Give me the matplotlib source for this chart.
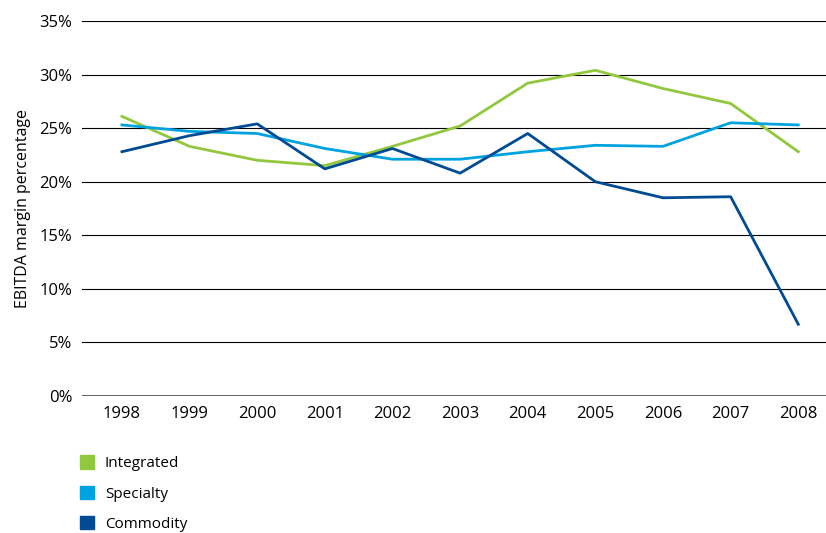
import matplotlib.pyplot as plt
from matplotlib.patches import Patch

plt.rcParams['font.family'] = ['Open Sans', 'DejaVu Sans']

# Data
years = [1998, 1999, 2000, 2001, 2002, 2003, 2004, 2005, 2006, 2007, 2008]
integrated = [26.1, 23.3, 22.0, 21.5, 23.3, 25.2, 29.2, 30.4, 28.7, 27.3, 22.8]
specialty = [25.3, 24.7, 24.5, 23.1, 22.1, 22.1, 22.8, 23.4, 23.3, 25.5, 25.3]
commodity = [22.8, 24.3, 25.4, 21.2, 23.1, 20.8, 24.5, 20.0, 18.5, 18.6, 6.7]
yticks = [0, 5, 10, 15, 20, 25, 30, 35]

c_int = '#92C83E'
c_spe = '#00A3E0'
c_com = '#004B93'

fig = plt.figure(figsize=(8.26, 5.33), dpi=100, facecolor='white')
ax = fig.add_axes([0.0993, 0.257, 0.9007, 0.7036])

for v in yticks:
    ax.axhline(v, color='#555555' if v == 0 else 'black', lw=1.3 if v == 0 else 0.8, zorder=1)

ax.plot(years, integrated, color=c_int, lw=2, zorder=3)
ax.plot(years, specialty, color=c_spe, lw=2, zorder=3)
ax.plot(years, commodity, color=c_com, lw=2, zorder=3)

ax.set_xlim(1997.41, 2008.41)
ax.set_ylim(0, 35)
ax.set_xticks(years)
ax.set_yticks(yticks)
ax.set_yticklabels([f'{v}%' for v in yticks])
ax.tick_params(length=0, labelsize=12, pad=7)
for s in ax.spines.values():
    s.set_visible(False)

ax.set_ylabel('EBITDA margin percentage', fontsize=11.5, labelpad=6)

handles = [Patch(color=c_int, label='Integrated'),
           Patch(color=c_spe, label='Specialty'),
           Patch(color=c_com, label='Commodity')]
fig.legend(handles=handles, loc='upper left', bbox_to_anchor=(0.089, 0.157),
           frameon=False, fontsize=11, handlelength=0.95, handleheight=0.95,
           labelspacing=0.95, handletextpad=0.7, borderaxespad=0)

fig.savefig('out.png', dpi=100)
